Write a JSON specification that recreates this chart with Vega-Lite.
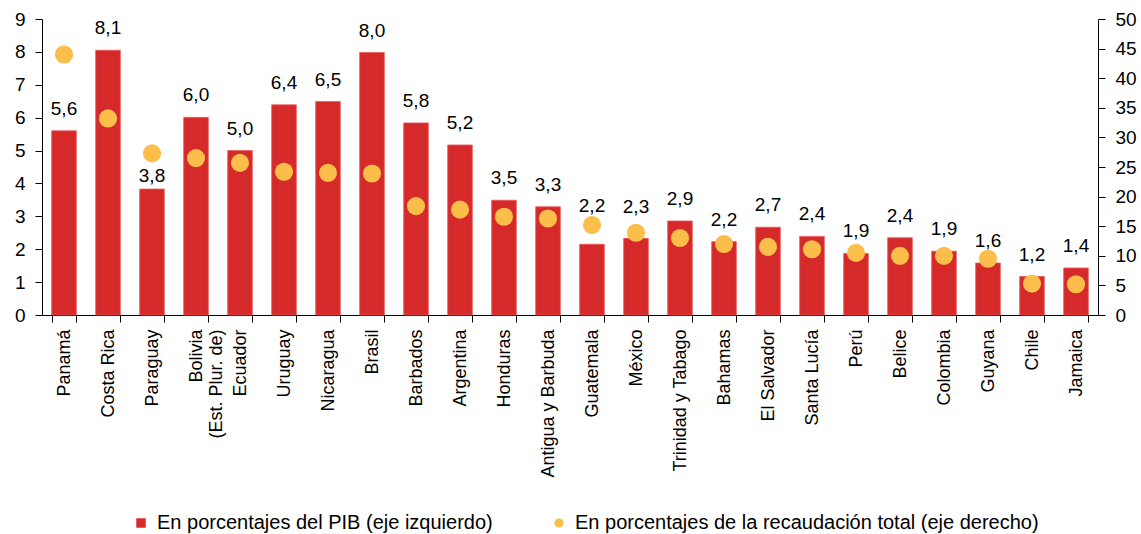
{
  "$schema": "https://vega.github.io/schema/vega-lite/v6.json",
  "width": 1056,
  "height": 296,
  "autosize": {"type": "none"},
  "padding": {"left": 42, "top": 19, "right": 43, "bottom": 219},
  "config": {
    "view": {"stroke": null},
    "font": "Liberation Sans",
    "axis": {"domainColor": "#000000", "tickColor": "#000000", "labelColor": "#000000", "grid": false, "title": null, "domainWidth": 1, "tickWidth": 1}
  },
  "data": {
    "values": [
      {"pais": "Panamá", "pib": 5.6, "lbl": "5,6", "rec": 44.0},
      {"pais": "Costa Rica", "pib": 8.05, "lbl": "8,1", "rec": 33.2},
      {"pais": "Paraguay", "pib": 3.83, "lbl": "3,8", "rec": 27.3},
      {"pais": "Bolivia (Est. Plur. de)", "pib": 6.01, "lbl": "6,0", "rec": 26.5},
      {"pais": "Ecuador", "pib": 5.0, "lbl": "5,0", "rec": 25.7},
      {"pais": "Uruguay", "pib": 6.39, "lbl": "6,4", "rec": 24.2},
      {"pais": "Nicaragua", "pib": 6.49, "lbl": "6,5", "rec": 24.0},
      {"pais": "Brasil", "pib": 7.98, "lbl": "8,0", "rec": 23.9},
      {"pais": "Barbados", "pib": 5.84, "lbl": "5,8", "rec": 18.4},
      {"pais": "Argentina", "pib": 5.17, "lbl": "5,2", "rec": 17.8},
      {"pais": "Honduras", "pib": 3.49, "lbl": "3,5", "rec": 16.6},
      {"pais": "Antigua y Barbuda", "pib": 3.29, "lbl": "3,3", "rec": 16.3},
      {"pais": "Guatemala", "pib": 2.15, "lbl": "2,2", "rec": 15.2},
      {"pais": "México", "pib": 2.33, "lbl": "2,3", "rec": 13.9},
      {"pais": "Trinidad y Tabago", "pib": 2.86, "lbl": "2,9", "rec": 13.0},
      {"pais": "Bahamas", "pib": 2.23, "lbl": "2,2", "rec": 12.0},
      {"pais": "El Salvador", "pib": 2.67, "lbl": "2,7", "rec": 11.5},
      {"pais": "Santa Lucía", "pib": 2.39, "lbl": "2,4", "rec": 11.1},
      {"pais": "Perú", "pib": 1.87, "lbl": "1,9", "rec": 10.5},
      {"pais": "Belice", "pib": 2.35, "lbl": "2,4", "rec": 10.0},
      {"pais": "Colombia", "pib": 1.94, "lbl": "1,9", "rec": 10.0},
      {"pais": "Guyana", "pib": 1.58, "lbl": "1,6", "rec": 9.5},
      {"pais": "Chile", "pib": 1.17, "lbl": "1,2", "rec": 5.3},
      {"pais": "Jamaica", "pib": 1.43, "lbl": "1,4", "rec": 5.2}
    ]
  },
  "encoding": {
    "x": {
      "field": "pais",
      "type": "nominal",
      "sort": null,
      "scale": {"paddingInner": 0.44, "paddingOuter": 0.22},
      "axis": {
        "labelAngle": -90,
        "labelFontSize": 18,
        "labelPadding": 7,
        "tickSize": 7,
        "tickBand": "extent",
        "labelLimit": 300,
        "labelExpr": "datum.label === 'Bolivia (Est. Plur. de)' ? ['Bolivia', '(Est. Plur. de)'] : datum.label"
      }
    }
  },
  "layer": [
    {
      "encoding": {
        "y": {
          "field": "pib",
          "type": "quantitative",
          "scale": {"domain": [0, 9], "nice": false},
          "axis": {"values": [0, 1, 2, 3, 4, 5, 6, 7, 8, 9], "labelFontSize": 19, "tickSize": 7, "labelPadding": 10}
        }
      },
      "layer": [
        {
          "mark": {"type": "bar", "stroke": "#e85a5a", "strokeWidth": 0.8},
          "encoding": {
            "color": {
              "datum": "En porcentajes del PIB (eje izquierdo)",
              "scale": {
                "domain": ["En porcentajes del PIB (eje izquierdo)"],
                "range": ["#d62a2a"]
              },
              "legend": {
                "title": null,
                "orient": "none",
                "legendX": 89,
                "legendY": 494,
                "padding": 0,
                "direction": "horizontal",
                "labelFontSize": 20,
                "labelColor": "#000000",
                "labelLimit": 600,
                "symbolOpacity": 1,
                "symbolStrokeWidth": 0,
                "symbolType": "square",
                "symbolSize": 90,
                "labelOffset": 6
              }
            }
          }
        },
        {
          "mark": {
            "type": "text",
            "fontSize": 19,
            "baseline": "alphabetic",
            "color": "#000000",
            "dy": {"expr": "datum.pais === 'Guatemala' ? -32 : datum.pais === 'México' ? -25 : datum.pais === 'Paraguay' ? -7 : -16"}
          },
          "encoding": {"text": {"field": "lbl"}}
        }
      ]
    },
    {
      "mark": {"type": "circle", "size": 330, "opacity": 1},
      "encoding": {
        "y": {
          "field": "rec",
          "type": "quantitative",
          "scale": {"domain": [0, 50], "nice": false},
          "axis": {"orient": "right", "values": [0, 5, 10, 15, 20, 25, 30, 35, 40, 45, 50], "labelFontSize": 19, "tickSize": 7, "labelPadding": 10}
        },
        "fill": {
          "datum": "En porcentajes de la recaudación total (eje derecho)",
          "scale": {
            "domain": ["En porcentajes de la recaudación total (eje derecho)"],
            "range": ["#fbbe4b"]
          },
          "legend": {
            "title": null,
            "orient": "none",
            "legendX": 507,
            "legendY": 494,
            "padding": 0,
            "direction": "horizontal",
            "labelFontSize": 20,
            "labelColor": "#000000",
            "labelLimit": 600,
            "symbolOpacity": 1,
            "symbolStrokeWidth": 0,
            "symbolType": "circle",
            "symbolSize": 85,
            "labelOffset": 6
          }
        }
      }
    }
  ],
  "resolve": {"scale": {"y": "independent"}}
}
